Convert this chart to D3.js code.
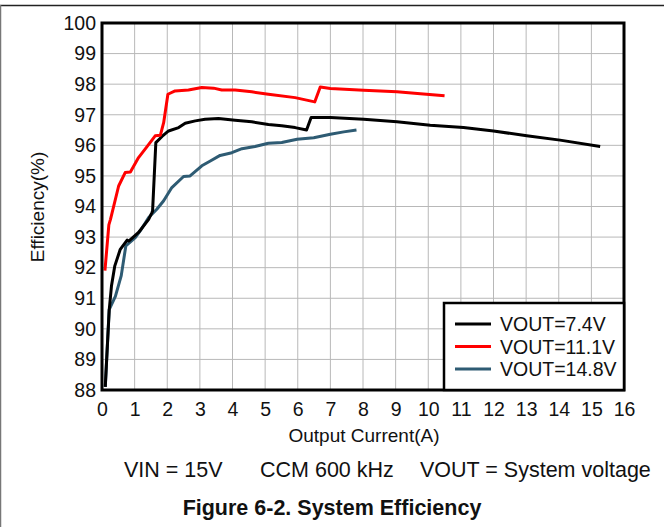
<!DOCTYPE html>
<html>
<head>
<meta charset="utf-8">
<script src="https://cdn.jsdelivr.net/npm/d3@7"></script>
<style>
  html, body { margin: 0; padding: 0; background: #fff; }
  svg { display: block; font-family: "Liberation Sans", Arial, sans-serif; }
</style>
</head>
<body>
<svg id="chart" width="664" height="527"></svg>
<script>
// Efficiency vs output current, one series per output voltage
const seriesNames = ["VOUT=7.4V", "VOUT=11.1V", "VOUT=14.8V"];
const seriesColors = ["#000000", "#ff0000", "#2e5b73"];

const current74 = [0.10, 0.22, 0.29, 0.39, 0.56, 0.77, 0.82, 1.12, 1.43, 1.53, 1.55, 1.65, 1.84, 2.04, 2.35, 2.55, 2.86, 3.16, 3.57, 4.08, 4.59, 5.10, 5.51, 5.92, 6.27, 6.41, 7.00, 8.02, 9.04, 10.06, 11.08, 12.00, 13.02, 14.04, 15.27];
const eff74     = [88.1, 90.6, 91.4, 92.05, 92.6, 92.9, 92.87, 93.15, 93.58, 93.8, 93.85, 96.09, 96.29, 96.47, 96.58, 96.72, 96.8, 96.85, 96.88, 96.82, 96.77, 96.68, 96.64, 96.58, 96.5, 96.91, 96.91, 96.85, 96.77, 96.66, 96.58, 96.47, 96.31, 96.17, 95.96];

const current111 = [0.09, 0.21, 0.26, 0.51, 0.71, 0.87, 1.12, 1.38, 1.63, 1.79, 1.89, 2.02, 2.24, 2.65, 3.06, 3.42, 3.67, 4.08, 4.59, 5.10, 5.92, 6.52, 6.69, 7.00, 8.02, 9.04, 9.76, 10.50];
const eff111     = [91.9, 93.4, 93.58, 94.67, 95.11, 95.13, 95.6, 95.96, 96.31, 96.33, 96.74, 97.67, 97.78, 97.81, 97.89, 97.87, 97.81, 97.81, 97.75, 97.67, 97.56, 97.42, 97.91, 97.86, 97.8, 97.75, 97.69, 97.62];

const current148 = [0.10, 0.22, 0.41, 0.59, 0.73, 1.02, 1.17, 1.43, 1.68, 1.89, 2.14, 2.50, 2.70, 3.06, 3.32, 3.62, 3.98, 4.29, 4.69, 5.10, 5.51, 5.98, 6.49, 7.00, 7.41, 7.80];
const eff148     = [88.1, 90.63, 91.06, 91.74, 92.71, 92.98, 93.2, 93.64, 93.91, 94.19, 94.62, 94.98, 95.0, 95.33, 95.49, 95.67, 95.76, 95.89, 95.96, 96.07, 96.09, 96.2, 96.25, 96.36, 96.44, 96.5];

const xTicks = d3.range(0, 17);
const yTicks = d3.range(88, 101);

const svg = d3.select("#chart");
const plot = { left: 102, right: 624, top: 23, bottom: 390 };

const x = d3.scaleLinear().domain([0, 16]).range([plot.left, plot.right]);
const y = d3.scaleLinear().domain([88, 100]).range([plot.bottom, plot.top]);

// Page frame (top rule and left edge)
svg.append("line").attr("x1", 0).attr("x2", 664).attr("y1", 5.5).attr("y2", 5.5)
  .attr("stroke", "#222").attr("stroke-width", 1.5);
svg.append("line").attr("x1", 0.5).attr("x2", 0.5).attr("y1", 5).attr("y2", 527)
  .attr("stroke", "#777").attr("stroke-width", 1.5);

// Grid
const grid = svg.append("g").attr("stroke", "#b8b8b8").attr("stroke-width", 1);
grid.selectAll("line.v").data(xTicks.slice(1, -1)).join("line")
  .attr("x1", d => x(d)).attr("x2", d => x(d)).attr("y1", plot.top).attr("y2", plot.bottom);
grid.selectAll("line.h").data(yTicks.slice(1, -1)).join("line")
  .attr("y1", d => y(d)).attr("y2", d => y(d)).attr("x1", plot.left).attr("x2", plot.right);

// Axes (labels only; the frame is drawn separately)
const xAxis = svg.append("g").attr("transform", `translate(0,${plot.bottom})`)
  .call(d3.axisBottom(x).tickValues(xTicks).tickSize(0).tickPadding(12).tickFormat(d3.format("d")));
const yAxis = svg.append("g").attr("transform", `translate(${plot.left},0)`)
  .call(d3.axisLeft(y).tickValues(yTicks).tickSize(0).tickPadding(6).tickFormat(d3.format("d")));
[xAxis, yAxis].forEach(a => {
  a.select(".domain").remove();
  a.selectAll("text").attr("font-size", 19.5).attr("fill", "#111")
    .attr("font-family", "'Liberation Sans', Arial, sans-serif");
});

// Curves
const line = d3.line().x(d => x(d[0])).y(d => y(d[1]));
const seriesData = [
  d3.zip(current74, eff74),
  d3.zip(current111, eff111),
  d3.zip(current148, eff148)
];
svg.append("clipPath").attr("id", "clip").append("rect")
  .attr("x", plot.left).attr("y", plot.top)
  .attr("width", plot.right - plot.left).attr("height", plot.bottom - plot.top);
const curves = svg.append("g").attr("clip-path", "url(#clip)");
// draw order: blue, black, red
[2, 0, 1].forEach(i => {
  curves.append("path").datum(seriesData[i])
    .attr("fill", "none").attr("stroke", seriesColors[i])
    .attr("stroke-width", 3).attr("stroke-linejoin", "round")
    .attr("d", line);
});

// Plot frame
svg.append("rect").attr("x", plot.left).attr("y", plot.top)
  .attr("width", plot.right - plot.left).attr("height", plot.bottom - plot.top)
  .attr("fill", "none").attr("stroke", "#000").attr("stroke-width", 3);

// Legend
const lg = svg.append("g");
lg.append("rect").attr("x", 444).attr("y", 303).attr("width", plot.right - 444).attr("height", plot.bottom - 303)
  .attr("fill", "#fff").attr("stroke", "#000").attr("stroke-width", 2.5);
seriesNames.forEach((name, i) => {
  const yy = 324 + i * 22.5;
  lg.append("line").attr("x1", 455).attr("x2", 491).attr("y1", yy).attr("y2", yy)
    .attr("stroke", seriesColors[i]).attr("stroke-width", 3);
  lg.append("text").attr("x", 500).attr("y", yy).attr("dy", "0.36em")
    .attr("font-size", 19.5).attr("fill", "#111").text(name);
});

// Axis titles
svg.append("text").attr("x", 364).attr("y", 442).attr("text-anchor", "middle")
  .attr("font-size", 19).attr("fill", "#111").text("Output Current(A)");
svg.append("text").attr("transform", "translate(44,207) rotate(-90)").attr("text-anchor", "middle")
  .attr("font-size", 19).attr("fill", "#111").text("Efficiency(%)");

// Conditions line and caption
const cond = svg.append("text").attr("y", 477).attr("font-size", 21.5).attr("fill", "#111");
cond.append("tspan").attr("x", 124).text("VIN = 15V");
cond.append("tspan").attr("x", 260).text("CCM 600 kHz");
cond.append("tspan").attr("x", 420).text("VOUT = System voltage");

svg.append("text").attr("x", 332).attr("y", 515).attr("text-anchor", "middle")
  .attr("font-size", 21.5).attr("font-weight", "bold").attr("fill", "#111")
  .text("Figure 6-2. System Efficiency");
</script>
</body>
</html>
